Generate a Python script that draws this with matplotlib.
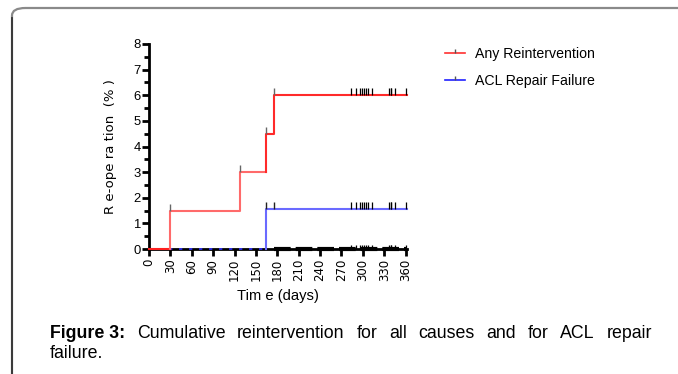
import matplotlib
matplotlib.use("Agg")
import matplotlib.pyplot as plt
from matplotlib import font_manager
from matplotlib.lines import Line2D
from matplotlib.patches import FancyBboxPatch

# ---------------- data ----------------
any_times = [0, 29, 127, 164, 175, 362]
any_vals = [0, 1.5, 3.0, 4.5, 6.0]
acl_times = [0, 164, 362]
acl_vals = [0, 1.55]
event_ticks_any = [29, 127, 164, 175]
event_ticks_acl = [164, 175]
censor_times = [284, 290, 296, 299, 301, 304, 307, 313, 337, 339, 340, 345, 361]
zero_times = [175, 362]
x_ticks = list(range(0, 361, 30))
y_ticks = list(range(0, 9))
labels = ["Any Reintervention", "ACL Repair Failure"]
caption_bold = "Figure 3:"
caption_line1 = "Cumulative reintervention for all causes and for ACL repair"
caption_line2 = "failure."

names = {f.name for f in font_manager.fontManager.ttflist}
NARROW = "Liberation Sans Narrow" if "Liberation Sans Narrow" in names else "Liberation Sans"
narrow_scale = 1.0 if NARROW == "Liberation Sans Narrow" else 0.85

W, H = 678, 374
fig = plt.figure(figsize=(W / 100, H / 100), dpi=100)

# frame border (rounded, top + left)
box = FancyBboxPatch((12 / W, -0.2), 1.2, (H - 8) / H + 0.2,
                     boxstyle="round,pad=0,rounding_size=0.02",
                     transform=fig.transFigure, facecolor="none",
                     edgecolor="#8a8a8a", linewidth=1.6, clip_on=False)
fig.add_artist(box)
fig.add_artist(Line2D([12 / W, 12 / W], [0, (H - 18) / H], transform=fig.transFigure,
                      color="#333333", lw=1.3))

ax = fig.add_axes([149 / W, 1 - 249 / H, (407 - 149) / W, (249 - 44) / H])

def steps(times, vals):
    xs, ys = [], []
    for i, v in enumerate(vals):
        xs += [times[i], times[i + 1]]
        ys += [v, v]
    return xs, ys

xa, ya = steps(any_times, any_vals)

# blue: zero part dotted, rest solid
ax.plot([acl_times[0], acl_times[1]], [acl_vals[0]] * 2, color="#3030ff", lw=1.2,
        ls=(0, (2, 4)), zorder=4, clip_on=False)
ax.plot([acl_times[1], acl_times[1], acl_times[2]], [acl_vals[0], acl_vals[1], acl_vals[1]],
        color="#6a6aff", lw=1.5, zorder=4, clip_on=False)

# red step (first segment at zero)
ax.plot(xa[:2], ya[:2], color="#ff2020", lw=1.5, zorder=5, clip_on=False)
ax.plot(xa[1:6], ya[1:6], color="#ff6a6a", lw=1.5, zorder=5, clip_on=False)
ax.plot(xa[5:], ya[5:], color="#ff2a2a", lw=1.5, zorder=5, clip_on=False)

# black dashed censored at zero
ax.plot(zero_times, [0, 0], color="black", lw=3, ls=(0, (4, 1.2)), zorder=6, clip_on=False)

def val_at(times, vals, t):
    v = vals[0]
    for i in range(len(vals)):
        if t >= times[i]:
            v = vals[i]
    return v

ax.plot(event_ticks_any, [val_at(any_times, any_vals, t) for t in event_ticks_any],
        ls="none", marker=2, ms=5, mew=1.0, mec="#666666", zorder=7, clip_on=False)
ax.plot(event_ticks_acl, [val_at(acl_times, acl_vals, t) for t in event_ticks_acl],
        ls="none", marker=2, ms=5, mew=1.0, mec="#222222", zorder=7, clip_on=False)
ax.plot(censor_times, [val_at(any_times, any_vals, t) for t in censor_times],
        ls="none", marker=2, ms=5, mew=0.9, mec="black", zorder=7, clip_on=False)
ax.plot(censor_times, [val_at(acl_times, acl_vals, t) for t in censor_times],
        ls="none", marker=2, ms=5, mew=0.9, mec="black", zorder=7, clip_on=False)
ax.plot(censor_times, [0] * len(censor_times),
        ls="none", marker=2, ms=3, mew=0.9, mec="black", zorder=7, clip_on=False)

ax.set_xlim(0, 362)
ax.set_ylim(0, 8)
for s in ["top", "right"]:
    ax.spines[s].set_visible(False)
for s in ["left", "bottom"]:
    ax.spines[s].set_linewidth(2.0)
ax.set_xticks(x_ticks)
ax.set_xticklabels([str(t) for t in x_ticks], rotation=90, family="DejaVu Sans", fontsize=8.5)
ax.set_yticks(y_ticks)
ax.set_yticklabels([str(t) for t in y_ticks], family=NARROW, fontsize=11 * narrow_scale)
ax.set_yticks([y + 0.5 for y in y_ticks[:-1]], minor=True)
ax.tick_params(axis="x", length=5, width=2, pad=2)
ax.tick_params(axis="y", which="major", length=5, width=2, pad=1)
ax.tick_params(axis="y", which="minor", length=3.5, width=2)

ax.set_ylabel("R e-ope ra tion  (% )", family="DejaVu Sans", fontsize=9.5, labelpad=12)
ax.set_xlabel("Tim e (days)", family=NARROW, fontsize=12.5 * narrow_scale, labelpad=6)

handles = [Line2D([0], [0], color="#ff3030", lw=1.2, marker=2, ms=3, mec="#555555"),
           Line2D([0], [0], color="#2020ff", lw=1.2, marker=2, ms=3, mec="#555555")]
leg = fig.legend(handles, labels, loc="upper left", bbox_to_anchor=(445 / W, 1 - 47 / H),
                 frameon=False, prop={"family": NARROW, "size": 12 * narrow_scale},
                 handlelength=1.4, handletextpad=0.75, labelspacing=0.95, borderpad=0,
                 borderaxespad=0)

# caption (justified first line)
fig.canvas.draw()
r = fig.canvas.get_renderer()
cap_size = 12.8
x0, x1 = 50, 652
y_line1 = H - 338
y_line2 = H - 358
words = [(caption_bold, "bold")] + [(w, "normal") for w in caption_line1.split()]
texts = []
total = 0
for w, wt in words:
    t = fig.text(0, 0, w, family="Liberation Sans", fontsize=cap_size, fontweight=wt,
                 transform=None)
    bb = t.get_window_extent(renderer=r)
    texts.append((t, bb.width))
    total += bb.width
gap = (x1 - x0 - total) / (len(words) - 1)
x = x0
for t, wdt in texts:
    t.set_position((x, y_line1))
    x += wdt + gap
fig.text(x0, y_line2, caption_line2, family="Liberation Sans", fontsize=cap_size,
         transform=None)

fig.savefig("out.png", dpi=100)
